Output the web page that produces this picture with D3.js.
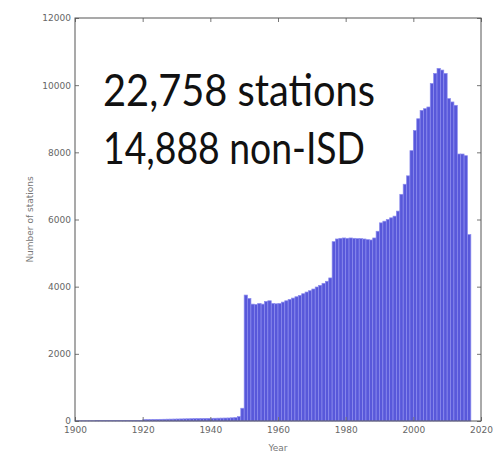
<!DOCTYPE html>
<html>
<head>
<meta charset="utf-8">
<script src="https://cdn.jsdelivr.net/npm/d3@7/dist/d3.min.js"></script>
<style>
  html, body { margin: 0; padding: 0; background: #fff; }
  svg { display: block; }
</style>
</head>
<body>
<svg id="chart" width="495" height="455"></svg>
<script>
// Station counts per year (bin = [year, year + 1))
const years = [
  1900,1901,1902,1903,1904,1905,1906,1907,1908,1909,
  1910,1911,1912,1913,1914,1915,1916,1917,1918,1919,
  1920,1921,1922,1923,1924,1925,1926,1927,1928,1929,
  1930,1931,1932,1933,1934,1935,1936,1937,1938,1939,
  1940,1941,1942,1943,1944,1945,1946,1947,1948,1949,
  1950,1951,1952,1953,1954,1955,1956,1957,1958,1959,
  1960,1961,1962,1963,1964,1965,1966,1967,1968,1969,
  1970,1971,1972,1973,1974,1975,1976,1977,1978,1979,
  1980,1981,1982,1983,1984,1985,1986,1987,1988,1989,
  1990,1991,1992,1993,1994,1995,1996,1997,1998,1999,
  2000,2001,2002,2003,2004,2005,2006,2007,2008,2009,
  2010,2011,2012,2013,2014,2015,2016
];
const stationCounts = [
  8,8,9,9,10,10,11,11,12,12,
  13,13,14,14,15,15,16,16,17,18,
  40,42,44,46,48,50,52,54,56,58,
  60,62,64,66,68,70,72,74,76,78,
  80,82,84,86,88,90,95,100,130,380,
  3750,3650,3480,3470,3500,3480,3560,3580,3500,3490,
  3500,3540,3580,3620,3660,3700,3740,3790,3840,3880,
  3930,3990,4040,4100,4160,4260,5340,5420,5440,5450,
  5440,5450,5440,5430,5430,5420,5400,5390,5450,5650,
  5900,5950,6000,6050,6100,6250,6750,7050,7300,8050,
  8650,9000,9250,9300,9350,10050,10350,10500,10450,10350,
  9600,9500,9400,7950,7950,7900,5550
];
const xTickValues = [1900, 1920, 1940, 1960, 1980, 2000, 2020];
const yTickValues = [0, 2000, 4000, 6000, 8000, 10000, 12000];
const annotationLines = ["22,758 stations", "14,888 non-ISD"];

const svg = d3.select("#chart");
const margin = { left: 75, right: 14, top: 18, bottom: 34 };
const W = +svg.attr("width"), H = +svg.attr("height");
const plotW = W - margin.left - margin.right;
const plotH = H - margin.top - margin.bottom;

const x = d3.scaleLinear().domain([1900, 2020]).range([0, plotW]);
const y = d3.scaleLinear().domain([0, 12000]).range([plotH, 0]);

const g = svg.append("g").attr("transform", `translate(${margin.left},${margin.top})`);

// histogram bars
g.append("g").selectAll("rect")
  .data(years.map((yr, i) => ({ yr, n: stationCounts[i] })))
  .join("rect")
  .attr("x", d => x(d.yr))
  .attr("width", d => x(d.yr + 1) - x(d.yr))
  .attr("y", d => y(d.n))
  .attr("height", d => y(0) - y(d.n))
  .attr("fill", "#5858da")
  .attr("stroke", "#8c8cee")
  .attr("stroke-width", 0.7);

// inward ticks on all four sides
const tickStyle = sel => {
  sel.select(".domain").remove();
  sel.selectAll("line").attr("stroke", "#777");
  sel.selectAll("text").attr("fill", "#666")
    .style("font-family", "DejaVu Sans, sans-serif").style("font-size", "9px");
};
const fmt = d3.format("d");

g.append("g").attr("transform", `translate(0,${plotH})`)
  .call(d3.axisBottom(x).tickValues(xTickValues).tickFormat(fmt).tickSizeInner(-4).tickSizeOuter(0).tickPadding(6))
  .call(tickStyle);
g.append("g")
  .call(d3.axisTop(x).tickValues(xTickValues).tickFormat("").tickSizeInner(-4).tickSizeOuter(0))
  .call(tickStyle);
g.append("g")
  .call(d3.axisLeft(y).tickValues(yTickValues).tickFormat(fmt).tickSizeInner(-4).tickSizeOuter(0).tickPadding(4))
  .call(tickStyle);
g.append("g").attr("transform", `translate(${plotW},0)`)
  .call(d3.axisRight(y).tickValues(yTickValues).tickFormat("").tickSizeInner(-4).tickSizeOuter(0))
  .call(tickStyle);

// frame
g.append("rect")
  .attr("width", plotW).attr("height", plotH)
  .attr("fill", "none").attr("stroke", "#555").attr("stroke-width", 1);

// axis titles
svg.append("text")
  .attr("x", margin.left + x(1960)).attr("y", H - 4)
  .attr("text-anchor", "middle").attr("fill", "#777")
  .style("font-family", "DejaVu Sans, sans-serif").style("font-size", "9px")
  .text("Year");
svg.append("text")
  .attr("transform", `translate(33,${margin.top + y(6000)}) rotate(-90)`)
  .attr("text-anchor", "middle").attr("fill", "#777")
  .style("font-family", "DejaVu Sans, sans-serif").style("font-size", "9px")
  .text("Number of stations");

// annotation
const annoWidths = [272, 262];
svg.append("g").selectAll("text")
  .data(annotationLines)
  .join("text")
  .attr("x", 103)
  .attr("y", (d, i) => 106 + i * 58)
  .attr("fill", "#111")
  .attr("textLength", (d, i) => annoWidths[i])
  .attr("lengthAdjust", "spacingAndGlyphs")
  .style("font-family", "Lato, 'Open Sans', sans-serif")
  .style("font-size", "44px")
  .text(d => d);
</script>
</body>
</html>
